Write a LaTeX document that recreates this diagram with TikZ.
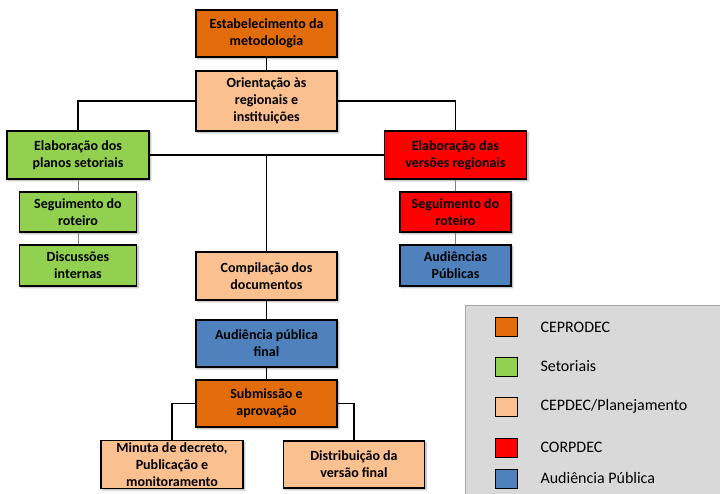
\documentclass[tikz,border=0pt]{standalone}
\usepackage{fontspec}
\setmainfont{Carlito}
\usepackage{tikz}
\usetikzlibrary{positioning,calc,shadows.blur}
\definecolor{Ceprodec}{HTML}{E36C0A}
\definecolor{Setorial}{HTML}{92D050}
\definecolor{Cepdec}{HTML}{FAC090}
\definecolor{Corpdec}{HTML}{FF0000}
\definecolor{Audiencia}{HTML}{4F81BD}
\definecolor{LegendFill}{HTML}{D9D9D9}
\definecolor{LegendLine}{HTML}{A6A6A6}
\tikzset{
  box/.style={draw=black,line width=1.5pt,minimum width=141pt,minimum height=47pt,
    align=center,inner sep=2pt,font=\fontsize{14}{17}\selectfont\bfseries,
    blur shadow={shadow xshift=1.5pt,shadow yshift=-1.5pt,shadow blur steps=6,shadow opacity=35}},
  boxorange/.style={box,fill=Ceprodec},
  boxgreen/.style={box,fill=Setorial},
  boxpeach/.style={box,fill=Cepdec},
  boxred/.style={box,fill=Corpdec},
  boxblue/.style={box,fill=Audiencia},
  link/.style={line width=1.3pt,color=black},
  sublink/.style={line width=0.7pt,color=gray},
  keybox/.style={draw=black,line width=1pt,minimum width=22pt,minimum height=19pt,inner sep=0pt},
  keytext/.style={anchor=west,font=\fontsize{16}{18}\selectfont}
}
\begin{document}
\begin{tikzpicture}[x=1pt,y=-1pt]
  \useasboundingbox (0,0) rectangle (720,494);
  % legend panel
  \node[draw=LegendLine,fill=LegendFill,line width=1pt,minimum width=258pt,minimum height=192pt,
    anchor=north west,inner sep=0pt] (legend) at (465,305) {};
  \foreach \y/\c/\t [count=\i] in {327/Ceprodec/CEPRODEC,366.5/Setorial/Setoriais,
      406.5/Cepdec/CEPDEC\slash Planejamento,447.5/Corpdec/CORPDEC,478.5/Audiencia/Audiência Pública}{
    \node[keybox,fill=\c] (key\i) at (506,\y) {};
    \node[keytext] (keylabel\i) at (537,\y) {\t};
  }

  % main column
  \node[boxorange] (metod) at (266.5,33.5) {Estabelecimento da\\metodologia};
  \node[boxpeach,minimum height=60pt] (orient) at (266.5,101) {Orientação às\\regionais e\\instituições};
  \node[boxgreen,minimum width=142pt,minimum height=48pt] (setor) at (78,155) {Elaboração dos\\planos setoriais};
  \node[boxred,minimum width=142pt,minimum height=48pt] (regio) at (455.5,155) {Elaboração das\\versões regionais};
  \node[boxgreen,minimum width=117pt,minimum height=40pt] (segsetor) at (78,212) {Seguimento do\\roteiro};
  \node[boxgreen,minimum width=117pt,minimum height=41pt] (discint) at (78,265.5) {Discussões\\internas};
  \node[boxred,minimum width=111pt,minimum height=40pt] (segregio) at (455.5,212) {Seguimento do\\roteiro};
  \node[boxblue,minimum width=111pt,minimum height=41pt] (audregio) at (455.5,265.5) {Audiências\\Públicas};
  \node[boxpeach,minimum height=48pt] (compil) at (266.5,276) {Compilação dos\\documentos};
  \node[boxblue] (audfinal) at (266.5,343.5) {Audiência pública\\final};
  \node[boxorange] (submis) at (266.5,403.5) {Submissão e\\aprovação};
  \node[boxpeach,minimum width=142pt] (minuta) at (172,464.5) {Minuta de decreto,\\Publicação e\\monitoramento};
  \node[boxpeach] (distrib) at (354,464.5) {Distribuição da\\versão final};

  % connectors
  \draw[link] (metod) -- (orient);
  \draw[link] (orient.west) -| (setor.north);
  \draw[link] (orient.east) -| (regio.north);
  \draw[link] (setor.east) -- (regio.west);
  \draw[link] (setor.east -| compil.north) -- (compil.north);
  \draw[link] (compil) -- (audfinal);
  \draw[link] (audfinal) -- (submis);
  \draw[link] (submis.west) -| (minuta.north);
  \draw[link] (submis.east) -| (distrib.north);
  \draw[sublink] (setor) -- (segsetor);
  \draw[sublink] (segsetor) -- (discint);
  \draw[sublink] (regio) -- (segregio);
  \draw[sublink] (segregio) -- (audregio);
\end{tikzpicture}
\end{document}
